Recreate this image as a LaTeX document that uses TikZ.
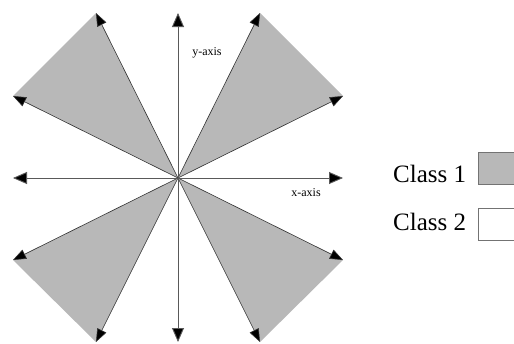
\documentclass[tikz,border=0pt]{standalone}
\usepackage{fontspec}
\setmainfont{Liberation Serif}
\usetikzlibrary{arrows.meta}
\begin{document}
\begin{tikzpicture}[x=1pt,y=-1pt,
 ax/.style={draw=black!65, line width=0.9pt, -{Triangle[length=14pt,width=12pt,fill=black]}},
 diag/.style={draw=black!80, line width=0.6pt, -{Triangle[length=13pt,width=10pt,fill=black]}},
 shade/.style={fill=black!28},
 small/.style={font=\fontsize{12}{14}\selectfont, inner sep=0},
 big/.style={font=\fontsize{25}{28}\selectfont, inner sep=0, anchor=base west},
 legbox/.style={draw=black!55, line width=0.8pt, anchor=north west, minimum width=50pt, minimum height=32pt, inner sep=0}]
\useasboundingbox (0,0) rectangle (514,343);
\clip (0,0) rectangle (514,343);
\fill[white] (0,0) rectangle (514,343);
\coordinate (O) at (178,178);
% diagonal tips
\coordinate (t1) at (96,13);
\coordinate (t2) at (13,96);
\coordinate (t3) at (260,13);
\coordinate (t4) at (343,96);
\coordinate (t5) at (13,260);
\coordinate (t6) at (96,342);
\coordinate (t7) at (343,260);
\coordinate (t8) at (260,342);
% axis tips
\coordinate (xl) at (13,178);
\coordinate (xr) at (343,178);
\coordinate (yt) at (178,13);
\coordinate (yb) at (178,342);
% shaded sectors
\fill[shade] (O) -- (t1) -- (t2) -- cycle;
\fill[shade] (O) -- (t3) -- (t4) -- cycle;
\fill[shade] (O) -- (t5) -- (t6) -- cycle;
\fill[shade] (O) -- (t7) -- (t8) -- cycle;
% diagonal arrows
\foreach \t in {t1,t2,t3,t4,t5,t6,t7,t8} \draw[diag] (O) -- (\t);
% axes
\draw[ax] (O) -- (xl);
\draw[ax] (O) -- (xr);
\draw[ax] (O) -- (yt);
\draw[ax] (O) -- (yb);
% labels
\node[small] (ylab) at (207,53) {y-axis};
\node[small] (xlab) at (306,193) {x-axis};
% legend
\node[big] (c1) at (393,182) {Class 1};
\node[legbox, fill=black!28] (b1) at (478,152) {};
\node[big] (c2) at (393,230) {Class 2};
\node[legbox, fill=white] (b2) at (478,208) {};
\end{tikzpicture}
\end{document}
